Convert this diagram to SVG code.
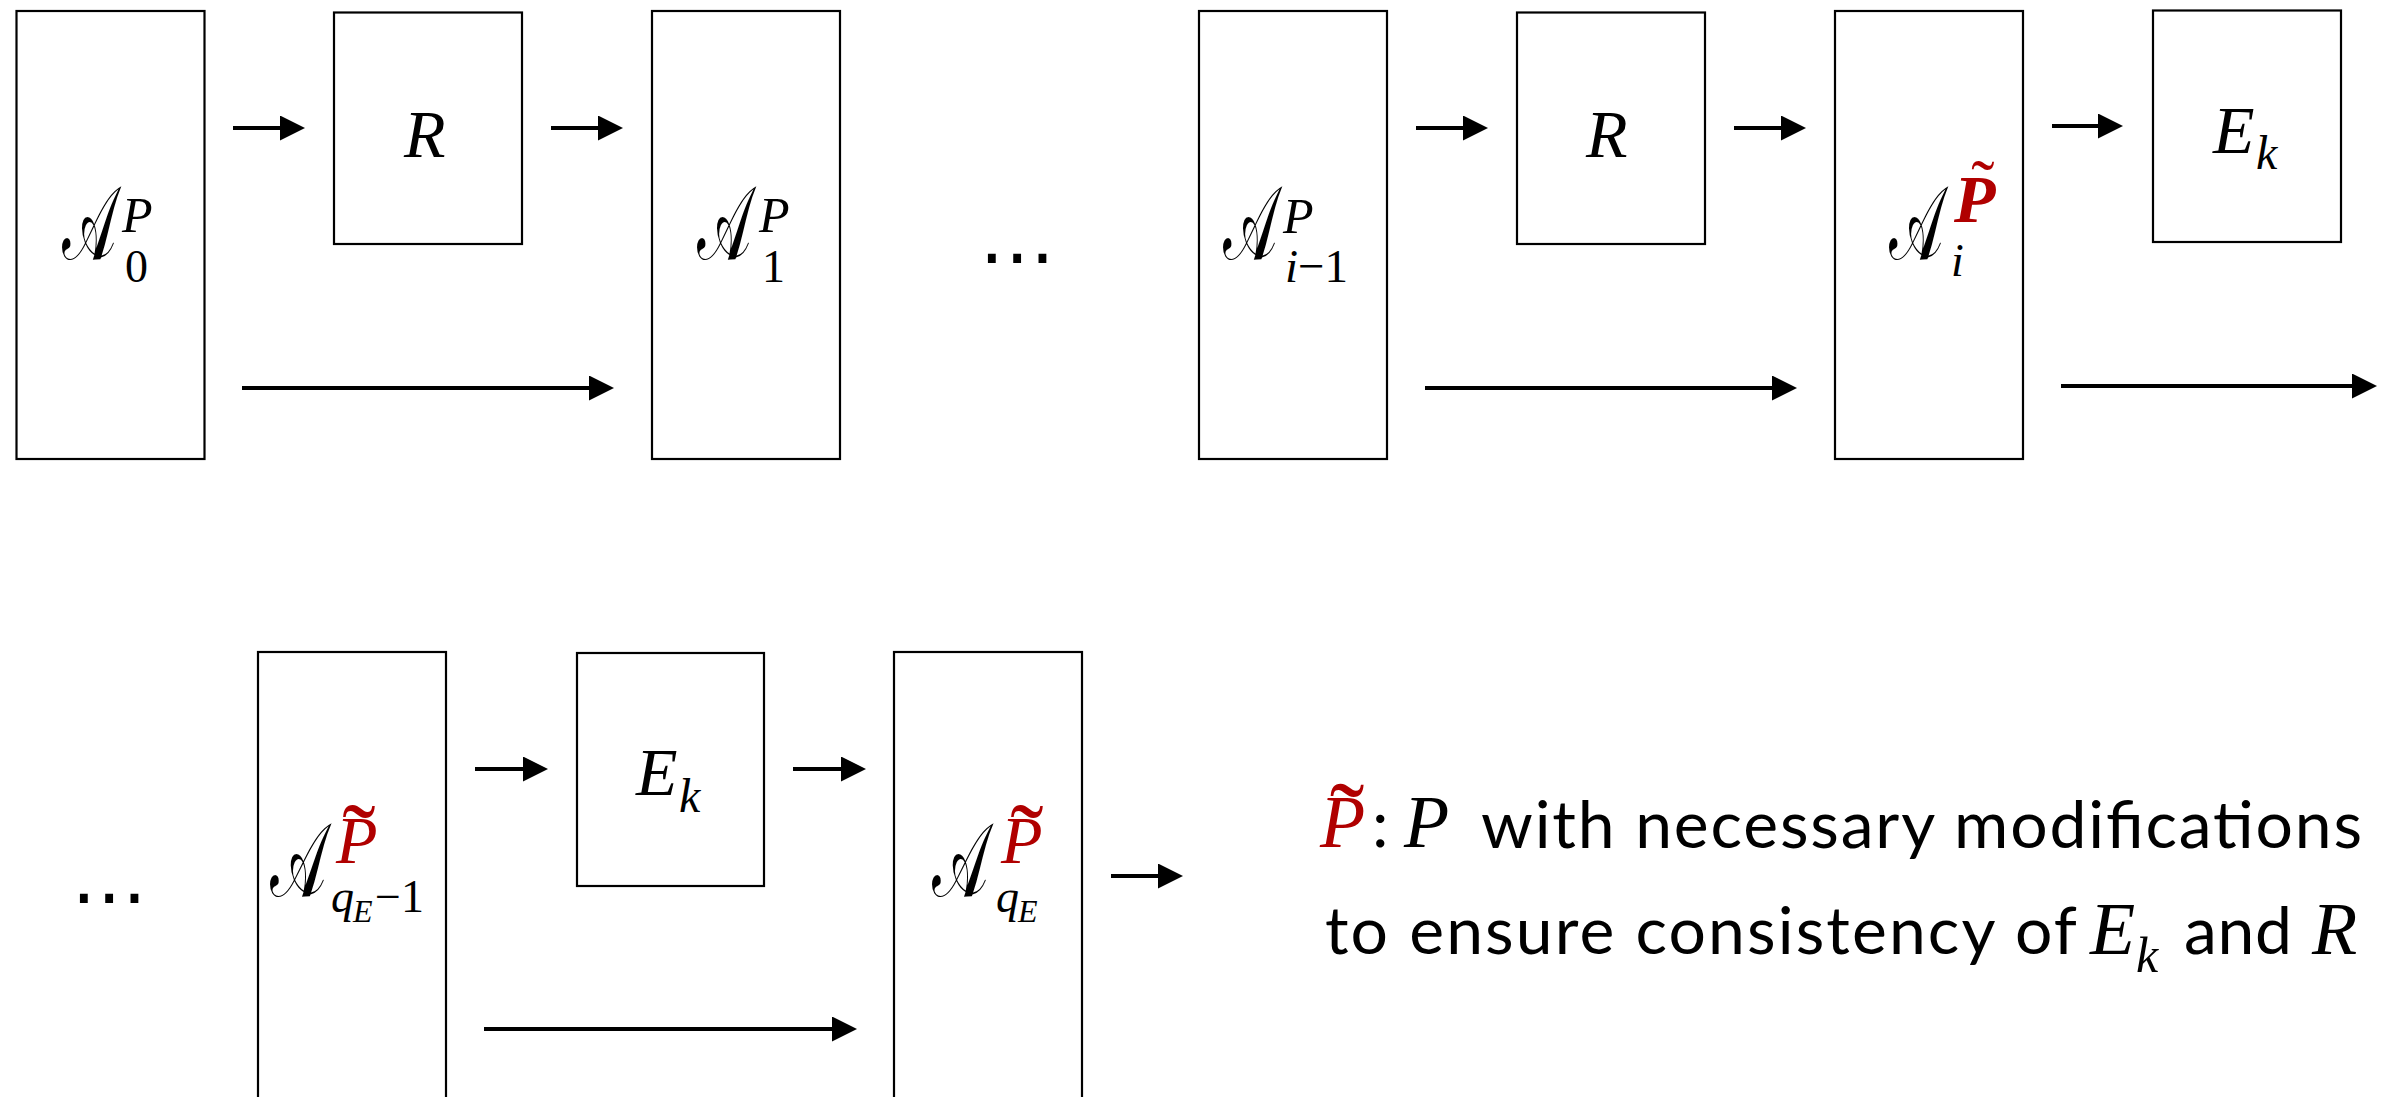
<svg xmlns="http://www.w3.org/2000/svg" width="2395" height="1097" viewBox="0 0 2395 1097">
<style>
.box{fill:#fff;stroke:#000;stroke-width:2.2}
.ar{stroke:#000;stroke-width:4;fill:none;marker-end:url(#ah)}
.mi{font-family:"Liberation Serif",serif;font-style:italic;fill:#000}
.up{font-family:"Liberation Serif",serif;fill:#000}
.scr{font-family:"DejaVu Serif","DejaVu Sans",serif;fill:#000;font-size:104px}
.red{fill:#b00000}
.sans{font-family:Lato,"Open Sans",sans-serif;fill:#000}
.dots{font-family:"DejaVu Sans",sans-serif;fill:#000}
</style>
<defs>
<marker id="ah" markerUnits="userSpaceOnUse" markerWidth="26" markerHeight="26" refX="1" refY="12.5" orient="auto"><path d="M0,0 L25,12.5 L0,25 z" fill="#000"/></marker>
</defs>
<rect width="2395" height="1097" fill="#fff"/>
<g id="connectors">
<line class="ar" x1="233" y1="128" x2="281" y2="128"/>
<line class="ar" x1="551" y1="128" x2="599" y2="128"/>
<line class="ar" x1="242" y1="388" x2="590" y2="388"/>
<line class="ar" x1="1416" y1="128" x2="1464" y2="128"/>
<line class="ar" x1="1734" y1="128" x2="1782" y2="128"/>
<line class="ar" x1="1425" y1="388" x2="1773" y2="388"/>
<line class="ar" x1="2052" y1="126" x2="2099" y2="126"/>
<line class="ar" x1="2061" y1="386" x2="2353" y2="386"/>
<line class="ar" x1="475" y1="769" x2="524" y2="769"/>
<line class="ar" x1="793" y1="769" x2="842" y2="769"/>
<line class="ar" x1="484" y1="1029" x2="833" y2="1029"/>
<line class="ar" x1="1111" y1="876" x2="1159" y2="876"/>
</g>
<g id="A0">
<rect class="box" x="16.5" y="11" width="188" height="448"/>
<text class="scr" x="62" y="259" textLength="54" lengthAdjust="spacingAndGlyphs">𝒜</text>
<text class="mi" x="122" y="232" font-size="50">P</text>
<text class="up" x="125" y="282" font-size="46">0</text>
</g>
<g id="R1">
<rect class="box" x="334" y="12.5" width="188" height="231.5"/>
<text class="mi" x="404" y="157" font-size="68">R</text>
</g>
<g id="A1">
<rect class="box" x="652" y="11" width="188" height="448"/>
<text class="scr" x="697" y="259" textLength="54" lengthAdjust="spacingAndGlyphs">𝒜</text>
<text class="mi" x="759" y="232" font-size="50">P</text>
<text class="up" x="762" y="282" font-size="46">1</text>
</g>
<g id="dots1"><text class="dots" x="1017" y="282" font-size="76" text-anchor="middle">⋯</text></g>
<g id="Aim1">
<rect class="box" x="1199" y="11" width="188" height="448"/>
<text class="scr" x="1223" y="259" textLength="54" lengthAdjust="spacingAndGlyphs">𝒜</text>
<text class="mi" x="1283" y="233" font-size="50">P</text>
<text x="1285" y="282" font-size="47"><tspan class="mi">i</tspan><tspan class="up">−1</tspan></text>
</g>
<g id="R2">
<rect class="box" x="1517" y="12.5" width="188" height="231.5"/>
<text class="mi" x="1586" y="157" font-size="68">R</text>
</g>
<g id="Ai">
<rect class="box" x="1835" y="11" width="188" height="448"/>
<text class="scr" x="1889" y="259" textLength="54" lengthAdjust="spacingAndGlyphs">𝒜</text>
<text class="mi red" x="1954" y="222" font-size="68" font-weight="bold">P</text>
<text class="up red" x="1983" y="208" font-size="70" text-anchor="middle">˜</text>
<text class="mi" x="1951" y="276" font-size="46">i</text>
</g>
<g id="Ek1">
<rect class="box" x="2153" y="10.5" width="188" height="231.5"/>
<text class="mi" x="2213" y="153" font-size="68">E</text>
<text class="mi" x="2256" y="169" font-size="48">k</text>
</g>
<g id="dots2"><text class="dots" x="109" y="922" font-size="76" text-anchor="middle">⋯</text></g>
<g id="AqEm1">
<rect class="box" x="258" y="652" width="188" height="460"/>
<text class="scr" x="270" y="896" textLength="56" lengthAdjust="spacingAndGlyphs">𝒜</text>
<text class="mi red" x="336" y="863" font-size="68">P</text>
<text class="up red" x="359" y="872" font-size="100" text-anchor="middle">˜</text>
<text class="mi" x="331" y="912" font-size="46">q</text>
<text class="mi" x="353" y="922" font-size="32">E</text>
<text class="up" x="375" y="912" font-size="46">−1</text>
</g>
<g id="Ek2">
<rect class="box" x="577" y="653" width="187" height="233"/>
<text class="mi" x="636" y="795" font-size="68">E</text>
<text class="mi" x="679" y="812" font-size="48">k</text>
</g>
<g id="AqE">
<rect class="box" x="894" y="652" width="188" height="460"/>
<text class="scr" x="932" y="896" textLength="56" lengthAdjust="spacingAndGlyphs">𝒜</text>
<text class="mi red" x="1001" y="863" font-size="68">P</text>
<text class="up red" x="1027" y="872" font-size="100" text-anchor="middle">˜</text>
<text class="mi" x="996" y="912" font-size="46">q</text>
<text class="mi" x="1018" y="922" font-size="32">E</text>
</g>
<g id="legend">
<text class="mi red" x="1320" y="847" font-size="74">P</text>
<text class="up red" x="1347" y="854" font-size="104" text-anchor="middle">˜</text>
<text class="sans" x="1372" y="847" font-size="66">:</text>
<text class="mi" x="1404" y="847" font-size="74">P</text>
<text class="sans" x="1481" y="848" font-size="66" textLength="881">with necessary modifications</text>
<text class="sans" x="1325" y="954" font-size="66" textLength="752">to ensure consistency of</text>
<text class="mi" x="2090" y="954" font-size="74">E</text>
<text class="mi" x="2136" y="972" font-size="50">k</text>
<text class="sans" x="2184" y="954" font-size="66" textLength="108">and</text>
<text class="mi" x="2312" y="954" font-size="74">R</text>
</g>
</svg>
